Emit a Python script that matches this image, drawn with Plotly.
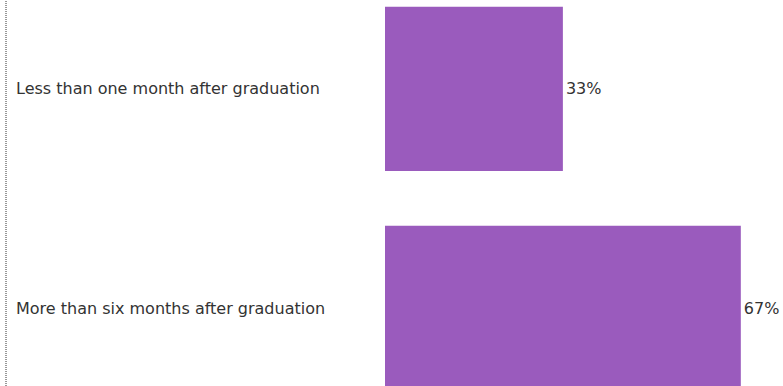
import plotly.graph_objects as go

categories = ["Less than one month after graduation", "More than six months after graduation"]
values = [33.33, 66.67]
value_labels = ["33%", "67%"]

W, H = 783, 386
BAR_COLOR = "#9A5BBD"
TEXT_COLOR = "#333333"
FONT = "DejaVu Sans"
FS = 16

fig = go.Figure()
fig.add_trace(go.Bar(
    x=values,
    y=categories,
    orientation="h",
    marker=dict(color=BAR_COLOR, line=dict(width=0)),
    width=0.75,
    text=value_labels,
    textposition="outside",
    textfont=dict(family=FONT, size=FS, color=TEXT_COLOR),
    constraintext="none",
    cliponaxis=False,
    hoverinfo="skip",
))

for c in categories:
    fig.add_annotation(
        x=14 / W, xref="paper", xanchor="left",
        y=c, yref="y", yanchor="middle",
        text=c, showarrow=False,
        font=dict(family=FONT, size=FS, color=TEXT_COLOR),
    )

fig.add_shape(type="line", xref="paper", yref="paper",
              x0=6 / W, x1=6 / W, y0=0, y1=1,
              line=dict(color="#333333", width=1, dash="1px,1px"))

k = 5.337  # px per percent
fig.update_layout(
    width=W, height=H,
    margin=dict(l=0, r=0, t=0, b=0),
    paper_bgcolor="white", plot_bgcolor="white",
    showlegend=False,
    xaxis=dict(range=[-385 / k, (W - 385) / k], visible=False, fixedrange=True),
    yaxis=dict(type="category", categoryorder="array", categoryarray=categories,
               range=[1.356, -0.406], visible=False, fixedrange=True),
    font=dict(family=FONT),
)

fig.write_html("out.html", config={"displayModeBar": False},
               post_script="document.body.style.margin='0';document.body.style.overflow='hidden';")
